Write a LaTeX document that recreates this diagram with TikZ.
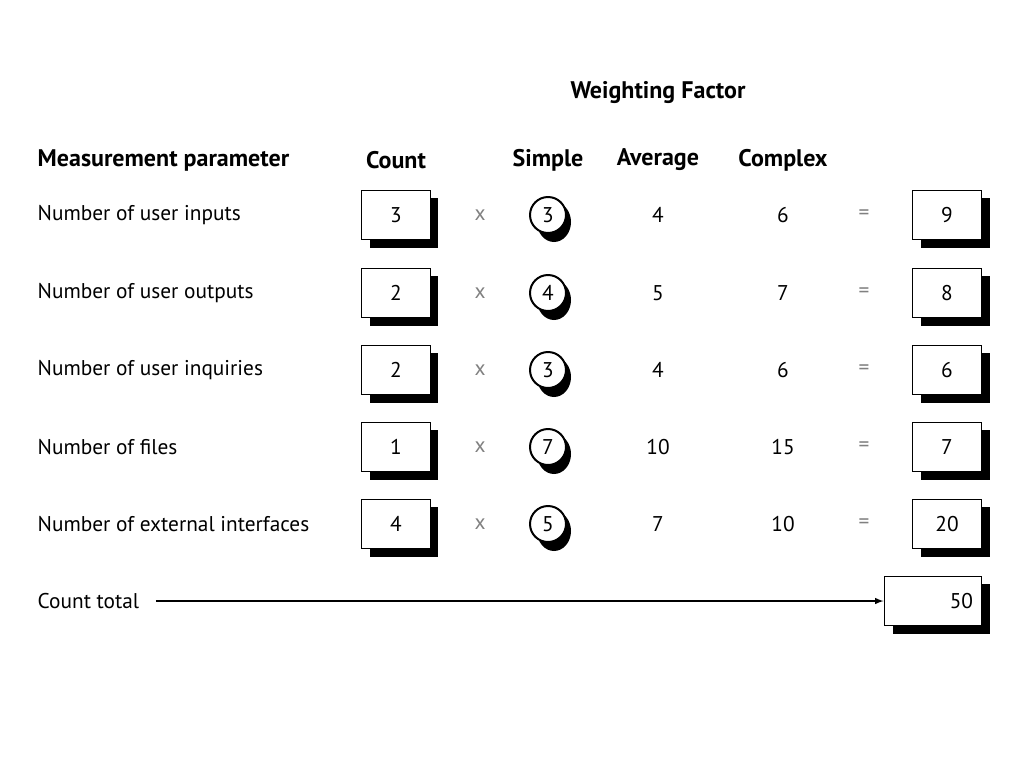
\documentclass[tikz,border=0pt]{standalone}
\usepackage{fontspec}
\setmainfont{PT Sans}
\begin{document}
\begin{tikzpicture}[x=0.75pt,y=-0.75pt,
  lbl/.style={anchor=west,font=\fontsize{16}{18}\selectfont},
  hdr/.style={font=\bfseries\fontsize{18}{20}\selectfont},
  num/.style={font=\fontsize{16}{18}\selectfont},
  valbox/.style={draw,line width=1.2pt,fill=white,minimum width=52pt,minimum height=37pt,font=\fontsize{16}{18}\selectfont},
  wbox/.style={valbox,minimum width=73pt},
  circ/.style={draw,line width=1.5pt,fill=white,circle,minimum size=27pt,inner sep=0pt,font=\fontsize{16}{18}\selectfont}]
\useasboundingbox (0,0) rectangle (1024,768);
\node[hdr] (wf) at (658,93) {Weighting Factor};
\node[hdr,anchor=west] (mp) at (33,160) {Measurement parameter};
\node[hdr] (hc) at (396,160) {Count};
\node[hdr] (hs) at (548,160) {Simple};
\node[hdr] (ha) at (658,160) {Average};
\node[hdr] (hx) at (783,160) {Complex};
\foreach \i/\y/\t/\c/\s/\a/\x/\r in {
 1/215/Number of user inputs/3/3/4/6/9,
 2/293/Number of user outputs/2/4/5/7/8,
 3/370/Number of user inquiries/2/3/4/6/6,
 4/447/Number of files/1/7/10/15/7,
 5/524/Number of external interfaces/4/5/7/10/20}{
  \node[lbl] (l\i) at (33,\y) {\t};
  \fill (370,\y-17) rectangle (438,\y+33);
  \node[valbox] (c\i) at (396,\y) {\c};
  \node[num,text=gray] (m\i) at (480,\y) {x};
  \fill (554,\y+7) ellipse (17 and 20);
  \node[circ] (s\i) at (548,\y) {\s};
  \node[num] (a\i) at (658,\y) {\a};
  \node[num] (x\i) at (783,\y) {\x};
  \node[num,text=gray] (e\i) at (864,\y) {=};
  \fill (921,\y-17) rectangle (990,\y+33);
  \node[valbox] (r\i) at (947,\y) {\r};
}
\node[lbl] (ct) at (33,601) {Count total};
\fill (893,584) rectangle (990,634);
\node[wbox,text width=60pt,align=right] (tot) at (933,601) {50};
\draw[line width=1.2pt,-latex] ([xshift=9pt]ct.east) -- (tot.west);
\end{tikzpicture}
\end{document}
